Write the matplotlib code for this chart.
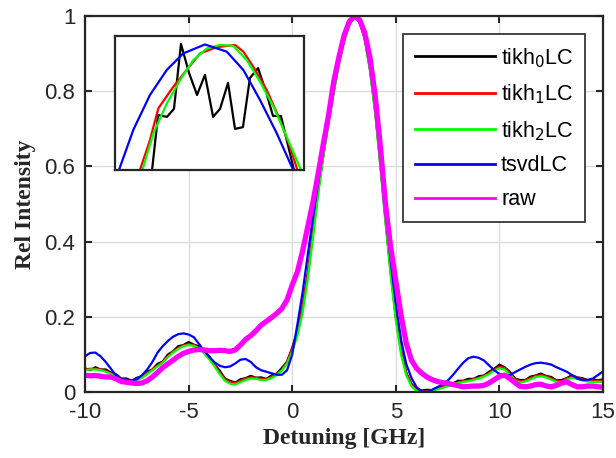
import numpy as np
import matplotlib.pyplot as plt
from matplotlib import rc
rc('font', **{'family': 'sans-serif',
              'sans-serif': ['Liberation Sans', 'Arial', 'DejaVu Sans']})
rc('axes', unicode_minus=False)

# detuning grid [GHz]
detuning = np.arange(-10, 15.001, 0.25)

tikh0 = [
    0.063, 0.058, 0.066, 0.060, 0.060, 0.052, 0.047, 0.036, 0.036, 0.030,
    0.038, 0.041, 0.054, 0.060, 0.075, 0.081, 0.100, 0.108, 0.122, 0.125,
    0.133, 0.126, 0.122, 0.106, 0.095, 0.073, 0.057, 0.036, 0.030, 0.025,
    0.034, 0.037, 0.043, 0.038, 0.039, 0.035, 0.044, 0.049, 0.064, 0.081,
    0.118, 0.163, 0.228, 0.315, 0.425, 0.535, 0.630, 0.720, 0.800, 0.875,
    0.935, 0.978, 0.997, 0.985, 0.940, 0.860, 0.750, 0.610, 0.460, 0.320,
    0.200, 0.112, 0.052, 0.022, 0.008, 0.004, 0.006, 0.005, 0.012, 0.014,
    0.020, 0.023, 0.030, 0.030, 0.035, 0.035, 0.042, 0.044, 0.054, 0.062,
    0.073, 0.066, 0.054, 0.036, 0.032, 0.032, 0.041, 0.044, 0.049, 0.043,
    0.040, 0.031, 0.032, 0.037, 0.045, 0.039, 0.037, 0.032, 0.034, 0.031,
    0.034,
]

tikh1 = [
    0.060, 0.062, 0.062, 0.060, 0.056, 0.050, 0.043, 0.036, 0.032, 0.031,
    0.034, 0.040, 0.050, 0.060, 0.070, 0.080, 0.095, 0.107, 0.117, 0.124,
    0.127, 0.125, 0.118, 0.105, 0.090, 0.072, 0.052, 0.035, 0.026, 0.024,
    0.030, 0.036, 0.039, 0.038, 0.035, 0.035, 0.040, 0.048, 0.060, 0.080,
    0.115, 0.160, 0.225, 0.315, 0.425, 0.535, 0.630, 0.720, 0.800, 0.875,
    0.935, 0.978, 0.997, 0.985, 0.940, 0.860, 0.750, 0.610, 0.460, 0.320,
    0.200, 0.110, 0.050, 0.020, 0.006, 0.002, 0.002, 0.005, 0.009, 0.013,
    0.017, 0.022, 0.026, 0.029, 0.031, 0.034, 0.038, 0.043, 0.050, 0.060,
    0.067, 0.064, 0.050, 0.035, 0.028, 0.031, 0.037, 0.043, 0.045, 0.042,
    0.036, 0.030, 0.028, 0.036, 0.041, 0.038, 0.034, 0.031, 0.030, 0.030,
    0.030,
]

tikh2 = [
    0.058, 0.060, 0.060, 0.058, 0.054, 0.048, 0.041, 0.034, 0.030, 0.029,
    0.032, 0.038, 0.048, 0.058, 0.068, 0.078, 0.093, 0.105, 0.115, 0.122,
    0.125, 0.123, 0.116, 0.103, 0.087, 0.068, 0.048, 0.030, 0.022, 0.020,
    0.026, 0.032, 0.036, 0.035, 0.032, 0.032, 0.037, 0.045, 0.057, 0.076,
    0.108, 0.150, 0.210, 0.300, 0.410, 0.525, 0.625, 0.715, 0.795, 0.872,
    0.933, 0.977, 0.997, 0.984, 0.938, 0.855, 0.742, 0.600, 0.450, 0.310,
    0.190, 0.100, 0.045, 0.016, 0.003, 0.000, 0.000, 0.003, 0.007, 0.011,
    0.015, 0.020, 0.024, 0.027, 0.029, 0.032, 0.036, 0.041, 0.048, 0.057,
    0.063, 0.060, 0.046, 0.030, 0.025, 0.028, 0.034, 0.040, 0.042, 0.039,
    0.033, 0.027, 0.025, 0.033, 0.038, 0.035, 0.031, 0.028, 0.027, 0.027,
    0.027,
]

tsvd = [
    0.095, 0.104, 0.105, 0.095, 0.080, 0.062, 0.044, 0.035, 0.032, 0.031,
    0.034, 0.045, 0.060, 0.080, 0.105, 0.122, 0.136, 0.147, 0.154, 0.156,
    0.153, 0.146, 0.128, 0.110, 0.093, 0.079, 0.070, 0.066, 0.068, 0.076,
    0.086, 0.088, 0.080, 0.066, 0.058, 0.054, 0.050, 0.046, 0.046, 0.058,
    0.100, 0.180, 0.265, 0.365, 0.465, 0.555, 0.655, 0.740, 0.810, 0.880,
    0.940, 0.980, 0.998, 0.985, 0.945, 0.870, 0.770, 0.630, 0.480, 0.350,
    0.235, 0.140, 0.075, 0.038, 0.013, 0.002, 0.000, 0.006, 0.013, 0.020,
    0.030, 0.045, 0.062, 0.078, 0.090, 0.094, 0.091, 0.084, 0.071, 0.058,
    0.048, 0.042, 0.045, 0.053, 0.060, 0.067, 0.073, 0.077, 0.078, 0.076,
    0.073, 0.066, 0.060, 0.054, 0.045, 0.036, 0.032, 0.032, 0.036, 0.045,
    0.055,
]

raw = [
    0.045, 0.043, 0.044, 0.042, 0.040, 0.040, 0.035, 0.028, 0.026, 0.024,
    0.023, 0.024, 0.030, 0.040, 0.052, 0.065, 0.075, 0.085, 0.095, 0.103,
    0.108, 0.112, 0.113, 0.112, 0.110, 0.110, 0.111, 0.110, 0.108, 0.112,
    0.125, 0.140, 0.150, 0.163, 0.178, 0.188, 0.198, 0.209, 0.222, 0.245,
    0.285, 0.320, 0.375, 0.440, 0.505, 0.580, 0.660, 0.735, 0.825, 0.890,
    0.948, 0.985, 1.000, 0.990, 0.955, 0.890, 0.790, 0.655, 0.500, 0.385,
    0.295, 0.205, 0.130, 0.085, 0.063, 0.050, 0.040, 0.033, 0.028, 0.025,
    0.023, 0.020, 0.017, 0.014, 0.015, 0.016, 0.016, 0.018, 0.024, 0.033,
    0.042, 0.045, 0.036, 0.025, 0.015, 0.014, 0.016, 0.020, 0.021, 0.016,
    0.014, 0.018, 0.024, 0.027, 0.020, 0.014, 0.014, 0.016, 0.016, 0.014,
    0.013,
]

# inset: close-up of the peak top
inset_tikh0_x = [2.69, 2.696, 2.728, 2.775, 2.812, 2.849, 2.892, 2.934, 2.976,
                 3.019, 3.056, 3.098, 3.135, 3.177, 3.214, 3.257, 3.299, 3.336,
                 3.378, 3.447, 3.46]
inset_tikh0_y = [0.965, 0.970, 0.9823, 0.9819, 0.9837, 0.9982, 0.9917, 0.9868,
                 0.9913, 0.9819, 0.9837, 0.9895, 0.9792, 0.9796, 0.9906, 0.9928,
                 0.9875, 0.9821, 0.9821, 0.970, 0.965]
inset_tikh1_x = [2.62, 2.632, 2.685, 2.729, 2.808, 2.879, 2.950, 3.038, 3.135,
                 3.179, 3.232, 3.303, 3.373, 3.426, 3.465, 3.48]
inset_tikh1_y = [0.967, 0.970, 0.9767, 0.9838, 0.9886, 0.9924, 0.9961, 0.9975,
                 0.9980, 0.9965, 0.9931, 0.9879, 0.9812, 0.9752, 0.970, 0.967]
inset_tikh2_x = [2.63, 2.645, 2.703, 2.774, 2.844, 2.914, 2.985, 3.056, 3.126,
                 3.197, 3.267, 3.338, 3.408, 3.484, 3.50]
inset_tikh2_y = [0.967, 0.970, 0.9782, 0.9849, 0.9901, 0.9946, 0.9972, 0.9980,
                 0.9978, 0.9946, 0.9898, 0.9842, 0.9775, 0.970, 0.967]
inset_tsvd_x = [2.51, 2.521, 2.597, 2.685, 2.774, 2.861, 2.976, 3.091, 3.179,
                3.267, 3.356, 3.443, 3.46]
inset_tsvd_y = [0.967, 0.970, 0.9790, 0.9868, 0.9924, 0.9961, 0.9981, 0.9965,
                0.9924, 0.9857, 0.9782, 0.970, 0.967]

labels = {
    'tikh0': r'tikh$_0$LC',
    'tikh1': r'tikh$_1$LC',
    'tikh2': r'tikh$_2$LC',
    'tsvd': 'tsvdLC',
    'raw': 'raw',
}
colors = {
    'tikh0': '#000000',
    'tikh1': '#ff0000',
    'tikh2': '#00ff00',
    'tsvd': '#0000ff',
    'raw': '#ff00ff',
}
curves = {'tikh0': tikh0, 'tikh1': tikh1, 'tikh2': tikh2,
          'tsvd': tsvd, 'raw': raw}

fig = plt.figure(figsize=(6.16, 4.58), dpi=100)
ax = fig.add_axes([0.138, 0.144, 0.841, 0.821])

for key, vals in curves.items():
    lw = 3.8 if key == 'raw' else 1.6
    ax.plot(detuning, vals, color=colors[key], lw=lw, label=labels[key])

ax.set_xlim(-10, 15)
ax.set_ylim(0, 1)
ax.set_xticks([-10, -5, 0, 5, 10, 15])
ax.set_yticks([0, 0.2, 0.4, 0.6, 0.8, 1.0])
ax.set_yticklabels(['0', '0.2', '0.4', '0.6', '0.8', '1'])
ax.grid(True, color='#dcdcdc', lw=1.0)
ax.set_axisbelow(True)
ax.tick_params(direction='in', top=True, right=True, length=5, width=1.5,
               labelsize=16, colors='#262626', pad=7)
for s in ax.spines.values():
    s.set_linewidth(1.6)
    s.set_color('#262626')

ax.set_xlabel('Detuning [GHz]', fontsize=17, fontweight='bold',
              family='Liberation Serif', color='#262626', labelpad=4)
ax.set_ylabel('Rel Intensity', fontsize=17, fontweight='bold',
              family='Liberation Serif', color='#262626', labelpad=6)

leg = ax.legend(loc='upper left', bbox_to_anchor=(0.614, 0.952), fontsize=15.5,
                fancybox=False, framealpha=1, edgecolor='#262626',
                handlelength=3.7, handletextpad=0.3, labelspacing=0.6,
                borderpad=0.55, borderaxespad=0)
leg.get_frame().set_linewidth(1.2)
for line in leg.get_lines():
    line.set_linewidth(2.0)

# inset
axin = fig.add_axes([0.1867, 0.6288, 0.3068, 0.2926])
axin.plot(inset_tikh0_x, inset_tikh0_y, color=colors['tikh0'], lw=1.6)
axin.plot(inset_tikh1_x, inset_tikh1_y, color=colors['tikh1'], lw=1.6)
axin.plot(inset_tikh2_x, inset_tikh2_y, color=colors['tikh2'], lw=1.6)
axin.plot(inset_tsvd_x, inset_tsvd_y, color=colors['tsvd'], lw=1.6)
axin.set_xlim(2.5, 3.5)
axin.set_ylim(0.97, 1.0)
axin.set_xticks([])
axin.set_yticks([])
for s in axin.spines.values():
    s.set_linewidth(1.6)
    s.set_color('#262626')

fig.savefig('out.png', dpi=100)
